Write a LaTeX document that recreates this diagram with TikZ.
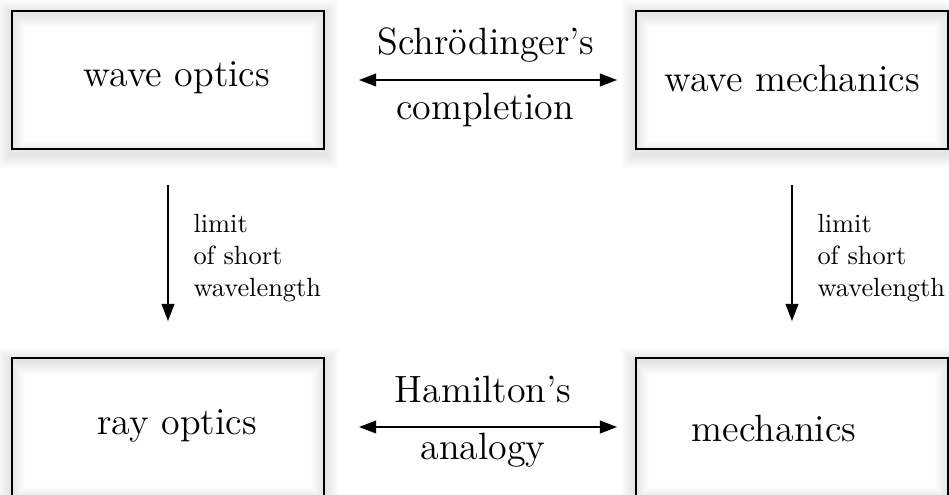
\documentclass[tikz,border=0pt]{standalone}
\usetikzlibrary{arrows.meta,backgrounds}
\begin{document}
\begin{tikzpicture}[x=0.379pt,y=-0.379pt,
  box/.style={draw=black,line width=0.8pt,minimum width=118.2pt,minimum height=52.3pt,inner sep=0pt},
  big/.style={font=\Large,inner sep=0pt,anchor=base},
  lbl/.style={font=\normalsize,align=left,inner sep=0pt,anchor=north west},
  con/.style={line width=0.75pt,-{Triangle[length=6.5pt,width=4.8pt]}},
  dcon/.style={line width=0.75pt,{Triangle[length=6.5pt,width=4.8pt]}-{Triangle[length=6.5pt,width=4.8pt]}}]
\useasboundingbox (0,0) rectangle (949,495);
\node[box] (wo) at (168,80) {};
\node[box] (wm) at (792,80) {};
\node[box] (ro) at (168,427) {};
\node[box] (me) at (792,427) {};
\begin{scope}[on background layer]
\foreach \n in {wo,wm,ro,me}{
  \foreach \w in {1,...,14}{
    \draw[black,opacity=0.009,line width=0.75*\w pt] ([yshift=-1.5pt]\n.south west) rectangle ([yshift=-1.5pt]\n.north east);
  }
}
\end{scope}
\node[big] (two) at (177,87) {wave optics};
\node[big] (twm) at (792,92) {wave mechanics};
\node[big] (tro) at (177,435) {ray optics};
\node[big] (tme) at (774,442) {mechanics};
\node[big] (s1) at (486,55) {Schrödinger’s};
\node[big] (s2) at (485,120) {completion};
\node[big] (h1) at (483,403) {Hamilton’s};
\node[big] (h2) at (483,460) {analogy};
\draw[dcon,shorten <=12.9pt,shorten >=6.8pt] (wo.east) -- (wm.west);
\draw[dcon,shorten <=12.9pt,shorten >=6.8pt] (ro.east) -- (me.west);
\draw[con,shorten <=13.3pt,shorten >=13.6pt] (wo.south) -- (ro.north);
\draw[con,shorten <=13.3pt,shorten >=13.6pt] (wm.south) -- (me.north);
\node[lbl] (l1) at (193,214) {limit\\of short\\wavelength};
\node[lbl] (l2) at (817,214) {limit\\of short\\wavelength};
\end{tikzpicture}
\end{document}
